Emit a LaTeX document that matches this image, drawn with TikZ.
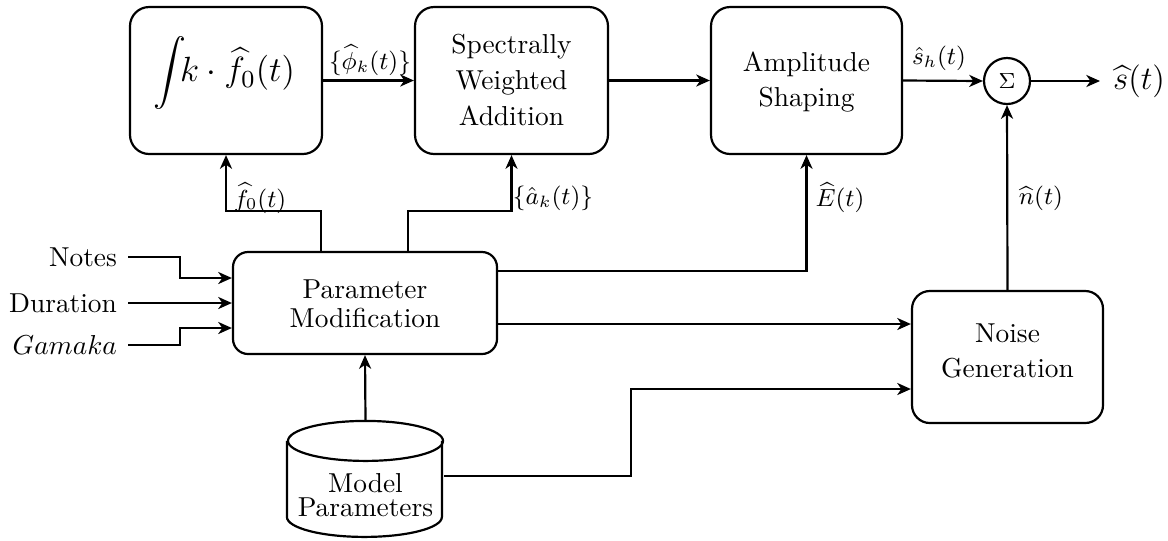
\RequirePackage{fix-cm}
\documentclass[tikz,border=0pt]{standalone}
\usepackage{amsmath}
\usetikzlibrary{arrows.meta,calc}
\newcommand\pxu{0.365pt}
\begin{document}
\begin{tikzpicture}[x=0.365pt,y=-0.365pt,
  line width=0.8pt,
  arr/.style={-{Stealth[length=5pt,width=4.4pt,inset=1.5pt]}},
  blk/.style={draw, rounded corners=7pt, inner sep=0pt, align=center},
  lbl/.style={font=\small, inner sep=1pt},
  txt/.style={align=center, inner sep=0pt},
  inp/.style={anchor=east, inner ysep=0pt, inner xsep=10*\pxu},
]
\useasboundingbox (0,0) rectangle (1168,540);

% processing blocks
\node[blk, minimum width=192*\pxu, minimum height=147*\pxu] (b1) at (226,80.5) {};
\node[txt, font=\fontsize{12.8}{16}\selectfont] (b1t) at (224,73)
  {$\displaystyle\int\!\! k\cdot\widehat{f}_0(t)$};
\node[blk, minimum width=193*\pxu, minimum height=147*\pxu] (b2) at (511.5,80.5) {};
\node[txt] (b2t) at (511.5,80) {Spectrally\\[1pt]Weighted\\[1pt]Addition};
\node[blk, minimum width=191*\pxu, minimum height=147*\pxu] (b3) at (806.5,80.5) {};
\node[txt] (b3t) at (806.5,82) {Amplitude\\[1pt]Shaping};
\node[draw, circle, minimum size=46*\pxu, inner sep=0pt, font=\footnotesize] (sg) at (1007,81) {$\Sigma$};
\node[font=\large, anchor=west, inner sep=0pt, inner xsep=12*\pxu] (out) at (1100,81) {$\widehat{s}(t)$};

\node[blk, rounded corners=5.5pt, minimum width=264*\pxu, minimum height=102*\pxu] (pm) at (365,303) {};
\node[txt] (pmt) at (365,304) {Parameter\\[-1.5pt]Modification};
\node[blk, rounded corners=6.5pt, minimum width=191*\pxu, minimum height=132*\pxu] (ng) at (1007.5,357) {};
\node[txt] (ngt) at (1007.5,351) {Noise\\[1pt]Generation};

% model parameter store (cylinder)
\node[inner sep=0pt, minimum width=155*\pxu, minimum height=116*\pxu] (mp) at (365.5,480) {};
\draw (mp.north west) ++(0,20) -- ++(0,76)
  arc[start angle=180, end angle=360, x radius=28.29pt, y radius=7.3pt] -- ++(0,-76);
\draw ($(mp.north)+(0,20)$) ellipse [x radius=28.29pt, y radius=7.3pt];
\node[txt] (mpt) at (365.5,495) {Model\\[-3pt]Parameters};

% inputs
\node[inp] (notes) at (128,257) {Notes};
\node[inp] (dur) at (128,303) {Duration};
\node[inp] (gam) at (128,345) {$Gamaka$};

% signal labels
\node[lbl] (lphi) at (370,60) {$\{\widehat{\phi}_k(t)\}$};
\node[lbl] (lf0) at (260,198) {$\widehat{f}_0(t)$};
\node[lbl] (la) at (553,198) {$\{\hat{a}_k(t)\}$};
\node[lbl] (lE) at (840,198) {$\widehat{E}(t)$};
\node[lbl] (lsh) at (939,58) {$\hat{s}_h(t)$};
\node[lbl] (ln) at (1041,198) {$\widehat{n}(t)$};

% connectors
\draw[arr] (b1.east) -- (b2.west);
\draw[arr] (b2.east) -- (b3.west);
\draw[arr] (b3.east) -- (sg.west);
\draw[arr] (sg.east) -- (out.west);

\draw[arr] (notes.east) -- ++(52,0) |- ($(pm.west)+(0,-25)$);
\draw[arr] (dur.east) -- (dur.east -| pm.west);
\draw[arr] (gam.east) -- ++(52,0) |- ($(pm.west)+(0,25)$);

\draw[arr] ($(pm.north west)+(89,0)$) -- ++(0,-40) -| (b1.south);
\draw[arr] ($(pm.north west)+(176,0)$) -- ++(0,-40) -| (b2.south);
\draw[arr] ($(pm.north east)+(0,20)$) -| (b3.south);
\coordinate (pe) at ($(pm.east)+(0,21)$);
\draw[arr] (pe) -- (pe -| ng.west);

\draw[arr] (mp.north) -- (pm.south);
\coordinate (me) at ($(mp.north east)+(0,55)$);
\draw[arr] (me) -- ++(187,0) |- ($(ng.west)+(0,32)$);

\draw[arr] (ng.north) -- (sg.south);
\end{tikzpicture}
\end{document}
